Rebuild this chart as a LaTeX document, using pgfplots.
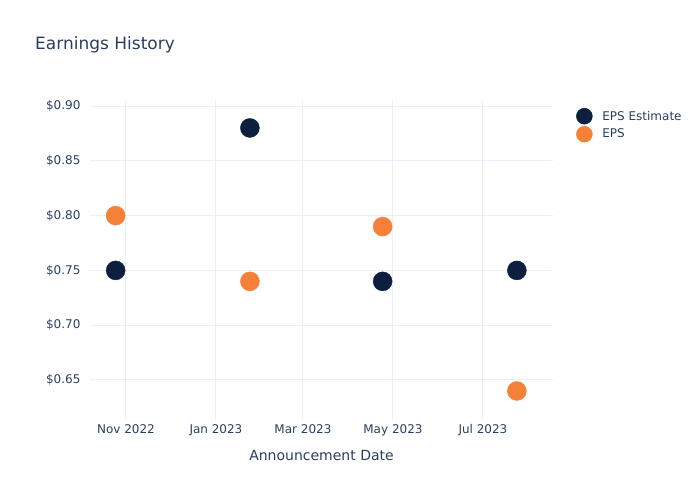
\documentclass[border=0pt]{standalone}
\usepackage{pgfplots}
\pgfplotsset{compat=1.18}
\usepackage{fontspec}
\setmainfont{DejaVu Sans}
\definecolor{txt}{RGB}{42,63,95}
\definecolor{gridc}{RGB}{235,240,248}
\definecolor{navy}{RGB}{12,31,62}
\definecolor{orng}{RGB}{245,128,55}
\begin{document}
\begin{tikzpicture}
\useasboundingbox (0pt,0pt) rectangle (700pt,500pt);
\node[anchor=base west, text=txt, font=\fontsize{17}{20}\selectfont, inner sep=0] at (35pt,450pt) {Earnings History};
\begin{axis}[
  at={(90pt,80pt)}, anchor=south west,
  width=463pt, height=320pt, scale only axis,
  xmin=-24.4, xmax=289.5,
  ymin=0.6135, ymax=0.9055,
  xtick={0,61,120,181,242},
  xticklabels={Nov 2022,Jan 2023,Mar 2023,May 2023,Jul 2023},
  ytick={0.65,0.70,0.75,0.80,0.85,0.90},
  yticklabels={\$0.65,\$0.70,\$0.75,\$0.80,\$0.85,\$0.90},
  grid=major,
  major grid style={draw=gridc, line width=1pt},
  axis line style={draw=none},
  tick style={draw=none},
  ticklabel style={text=txt, font=\fontsize{12}{14}\selectfont},
  xticklabel style={yshift=-1pt},
  yticklabel style={xshift=-6pt},
  xlabel={Announcement Date},
  xlabel style={text=txt, font=\fontsize{14}{17}\selectfont, yshift=-7pt},
  clip=false,
  legend image code/.code={\draw[#1, mark size=8pt] plot coordinates {(0pt,0pt)};},
  legend style={at={(1.05,0.975)}, anchor=north west, draw=none, fill=none,
    font=\fontsize{12}{14}\selectfont, text=txt, row sep=2pt, inner sep=0pt,
    /tikz/every odd column/.append style={column sep=8pt}},
  legend cell align=left,
]
\addplot[only marks, mark=*, mark size=9.5pt, color=navy]
  coordinates {(-7,0.75) (84,0.88) (174,0.74) (265,0.75)};
\addlegendentry{EPS Estimate}
\addplot[only marks, mark=*, mark size=9.5pt, color=orng]
  coordinates {(-7,0.80) (84,0.74) (174,0.79) (265,0.64)};
\addlegendentry{EPS}
\end{axis}
\end{tikzpicture}
\end{document}
